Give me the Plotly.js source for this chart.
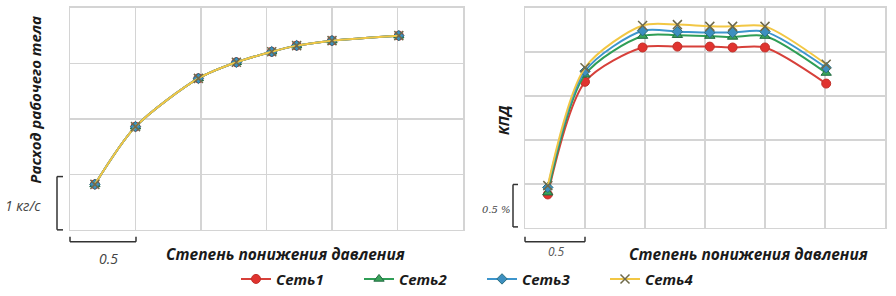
<!DOCTYPE html>
<html><head><meta charset="utf-8">
<script src="https://cdn.plot.ly/plotly-3.0.1.min.js"></script>
<style>html,body{margin:0;padding:0;background:#fff}#c{width:896px;height:296px}</style>
</head><body><div id="c"></div>
<script>
// ---- data ----
const seriesNames = ['Сеть1','Сеть2','Сеть3','Сеть4'];
const pressureRatio = [0.19, 0.5, 0.98, 1.27, 1.54, 1.73, 2.0, 2.51];
// left chart: working fluid flow (kg/s, relative)
const flow1 = [0.82, 1.86, 2.73, 3.02, 3.21, 3.32, 3.41, 3.50];
const flow2 = [0.82, 1.86, 2.73, 3.02, 3.21, 3.32, 3.41, 3.50];
const flow3 = [0.82, 1.86, 2.73, 3.02, 3.21, 3.32, 3.41, 3.50];
const flow4 = [0.82, 1.86, 2.73, 3.02, 3.21, 3.32, 3.41, 3.50];
// right chart: efficiency (%, relative)
const eff1 = [0.38, 1.66, 2.05, 2.06, 2.06, 2.05, 2.05, 1.64];
const eff2 = [0.40, 1.74, 2.18, 2.19, 2.18, 2.17, 2.18, 1.76];
const eff3 = [0.46, 1.78, 2.24, 2.23, 2.22, 2.22, 2.23, 1.82];
const eff4 = [0.48, 1.82, 2.30, 2.31, 2.29, 2.29, 2.29, 1.86];
const xTitle = 'Степень понижения давления';
const yTitleLeft = 'Расход рабочего тела';
const yTitleRight = 'КПД';

// ---- styles ----
const W = 896, H = 296;
const fx = p => p / W, fy = p => 1 - p / H;
const styles = [
  {line:'#d7403a', marker:{symbol:'circle', size:9, color:'#e0332f', line:{color:'#c0302a', width:1}}},
  {line:'#2f9e56', marker:{symbol:'triangle-up', size:9, color:'#3aa35a', line:{color:'#1f6a40', width:1}}},
  {line:'#3d95cc', marker:{symbol:'diamond', size:8, color:'#3d8fc0', line:{color:'#2a6f80', width:1}}},
  {line:'#f2c744', marker:{symbol:'x-thin', size:9, color:'#7a6a3a', line:{color:'#6f6a4a', width:1.5}}}
];
const leftData = [flow1, flow2, flow3, flow4];
const rightData = [eff1, eff2, eff3, eff4];
const traces = [];
seriesNames.forEach((n, i) => {
  traces.push({x: pressureRatio, y: leftData[i], name: n, type: 'scatter', mode: 'lines+markers',
    xaxis: 'x', yaxis: 'y', legendgroup: n, showlegend: true,
    line: {color: styles[i].line, width: 2, shape: 'spline', smoothing: 0.8}, marker: styles[i].marker});
});
seriesNames.forEach((n, i) => {
  traces.push({x: pressureRatio, y: rightData[i], name: n, type: 'scatter', mode: 'lines+markers',
    xaxis: 'x2', yaxis: 'y2', legendgroup: n, showlegend: false,
    line: {color: styles[i].line, width: 2, shape: 'spline', smoothing: 0.8}, marker: styles[i].marker});
});

const gridCol = '#d4d4d4';
const ax = (dom, range, dtick, anchor) => ({domain: dom, range: range, dtick: dtick, tick0: 0,
  showticklabels: false, ticks: '', showgrid: true, gridcolor: gridCol, gridwidth: 1.5,
  zeroline: false, showline: true, linecolor: gridCol, linewidth: 1.5, mirror: true,
  fixedrange: true, anchor: anchor});

const titleFont = {family: 'Open Sans, sans-serif', size: 15.5, color: '#1a1a1a', weight: 'bold', style: 'italic'};
const yTitleFont = Object.assign({}, titleFont, {size: 15});
const legendFont = Object.assign({}, titleFont, {size: 15});
const noteFont = {family: 'Open Sans, sans-serif', size: 14, color: '#444', style: 'italic'};
const bar = {color: '#333', width: 1.5};
const seg = (x0, y0, x1, y1) => ({type: 'line', xref: 'paper', yref: 'paper',
  x0: fx(x0), y0: fy(y0), x1: fx(x1), y1: fy(y1), line: bar});
const ann = (x, y, text, font, extra) => Object.assign({xref: 'paper', yref: 'paper', x: fx(x), y: fy(y),
  text: text, showarrow: false, font: font, xanchor: 'center', yanchor: 'middle'}, extra || {});

const layout = {
  width: W, height: H, margin: {l: 0, r: 0, t: 0, b: 0},
  paper_bgcolor: '#fff', plot_bgcolor: '#fff',
  xaxis: ax([fx(70), fx(463)], [0, 3], 0.5, 'y'),
  yaxis: ax([fy(233), fy(8)], [0, 4], 1, 'x'),
  xaxis2: ax([fx(525), fx(885)], [0, 3], 0.5, 'y2'),
  yaxis2: ax([fy(231), fy(8)], [0, 2.5], 0.5, 'x2'),
  showlegend: true,
  legend: {orientation: 'h', x: fx(236), xanchor: 'left', y: fy(283), yanchor: 'middle',
    font: legendFont, entrywidth: 78, itemwidth: 30, tracegroupgap: 0, bgcolor: 'rgba(0,0,0,0)'},
  shapes: [
    seg(57, 179, 57, 233), seg(57, 179, 63, 179), seg(57, 233, 63, 233),
    seg(70, 245, 136, 245), seg(70, 245, 70, 240), seg(136, 245, 136, 240),
    seg(513, 187, 513, 230), seg(513, 187, 518, 187), seg(513, 230, 518, 230),
    seg(525, 245, 585, 245), seg(525, 245, 525, 240), seg(585, 245, 585, 240)
  ],
  annotations: [
    ann(23, 208, '1 кг/с', noteFont),
    ann(108, 262, '0.5', noteFont),
    ann(496, 212, '0.5 %', {family: 'DejaVu Serif, serif', size: 10, color: '#444', style: 'italic'}),
    ann(556, 255, '0.5', {family: 'Open Sans, sans-serif', size: 12, color: '#555', style: 'italic'}),
    ann(285, 257, xTitle, titleFont),
    ann(748, 257, xTitle, titleFont),
    ann(35, 101, yTitleLeft, yTitleFont, {textangle: -90}),
    ann(503, 122, yTitleRight, yTitleFont, {textangle: -90})
  ]
};
Plotly.newPlot('c', traces, layout, {staticPlot: true, displayModeBar: false});
</script></body></html>
